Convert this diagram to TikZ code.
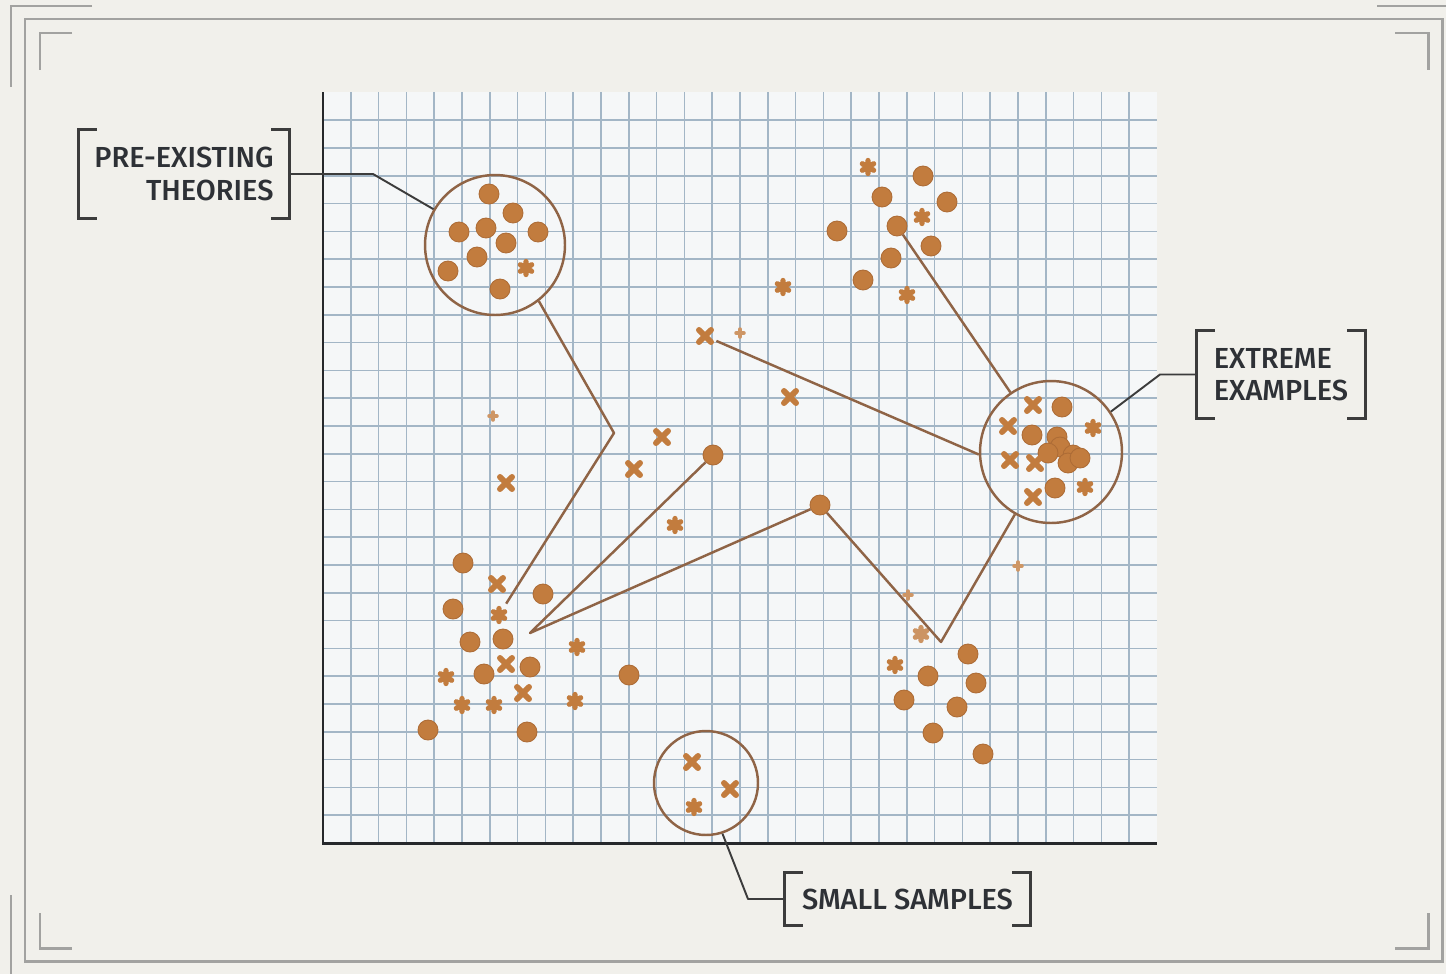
\documentclass[tikz,border=0pt]{standalone}
\usepackage{fontspec}
\newfontfamily\labfont{Fira Sans}[UprightFont=* Medium]
\usetikzlibrary{calc}
\definecolor{bgc}{HTML}{F1F0EB}
\definecolor{gridbg}{HTML}{F5F7F8}
\definecolor{gridc}{HTML}{A3B6C6}
\definecolor{axisc}{HTML}{26282B}
\definecolor{framec}{HTML}{A2A2A0}
\definecolor{dotc}{HTML}{C27C3E}
\definecolor{dotedge}{HTML}{AD6C36}
\definecolor{brownc}{HTML}{8F6446}
\definecolor{labc}{HTML}{2E3136}
\definecolor{leadc}{HTML}{3C3C3C}
\begin{document}
\begin{tikzpicture}[x=0.02cm,y=-0.02cm,
  framel/.style={draw=framec,line width=1.7pt},
  gridl/.style={draw=gridc,line width=0.85pt},
  axisl/.style={draw=axisc,line width=1.7pt},
  dot/.style={circle,fill=dotc,draw=dotedge,line width=0.5pt,minimum size=0.4cm,inner sep=0pt},
  xmark/.style={rectangle,minimum size=0.44cm,inner sep=0pt,
    path picture={\draw[dotc,line width=3.4pt,line cap=round]
      (path picture bounding box.center) +(-0.12cm,-0.12cm) -- +(0.12cm,0.12cm)
      (path picture bounding box.center) +(-0.12cm,0.12cm) -- +(0.12cm,-0.12cm);}},
  astmark/.style={rectangle,minimum size=0.44cm,inner sep=0pt,
    path picture={\draw[dotc,line width=3pt,line cap=round]
      (path picture bounding box.center) +(90:0.13cm) -- +(270:0.13cm)
      (path picture bounding box.center) +(30:0.13cm) -- +(210:0.13cm)
      (path picture bounding box.center) +(150:0.13cm) -- +(330:0.13cm);}},
  smallmark/.style={rectangle,minimum size=0.3cm,inner sep=0pt,
    path picture={\draw[dotc!80,line width=2pt,line cap=round]
      (path picture bounding box.center) +(90:0.08cm) -- +(270:0.08cm)
      (path picture bounding box.center) +(0:0.08cm) -- +(180:0.08cm);}},
  bigcirc/.style={circle,draw=brownc,line width=1.4pt,inner sep=0pt},
  conn/.style={draw=brownc,line width=1.4pt,line join=round},
  lead/.style={draw=leadc,line width=1.1pt,line join=round},
  brk/.style={draw=leadc,line width=1.5pt},
  lab/.style={inner sep=0pt,text=labc,font=\labfont\fontsize{16.5}{18.5}\selectfont}
]
% background
\fill[bgc] (0,0) rectangle (1446,974);
\useasboundingbox (0,0) rectangle (1446,974);

% frame
\draw[framel] (25,19) rectangle (1442,961);
\draw[framel] (92,6) -- (11,6) -- (11,87);
\draw[framel] (1377,6) -- (1446,6);
\draw[framel] (11,895) -- (11,974);
\draw[framel] (72,33) -- (40,33) -- (40,70);
\draw[framel] (1395,33) -- (1428,33) -- (1428,70);
\draw[framel] (40,913) -- (40,948) -- (72,948);
\draw[framel] (1395,948) -- (1428,948) -- (1428,913);

% grid
\fill[gridbg] (323,92) rectangle (1157,843);
\foreach \k in {1,...,29} \draw[gridl] ({323+27.8*\k},92) -- ({323+27.8*\k},843);
\foreach \k in {1,...,26} \draw[gridl] (323,{843-27.8*\k}) -- (1157,{843-27.8*\k});
\draw[axisl] (323,92) -- (323,843) -- (1157,843);

% big circles
\node[bigcirc,minimum size=2.8cm] (cpre) at (495,245) {};
\node[bigcirc,minimum size=2.84cm] (cext) at (1051,452) {};
\node[bigcirc,minimum size=2.08cm] (csmall) at (706,783) {};

% pre-existing cluster
\node[dot] (p1) at (489,194) {};
\node[dot] (p2) at (513,213) {};
\node[dot] (p3) at (459,232) {};
\node[dot] (p4) at (486,228) {};
\node[dot] (p5) at (506,243) {};
\node[dot] (p6) at (538,232) {};
\node[dot] (p7) at (477,257) {};
\node[dot] (p8) at (448,271) {};
\node[dot] (p9) at (500,289) {};
\node[astmark] (p10) at (526,268) {};

% top right cluster
\node[astmark] (t1) at (868,167) {};
\node[dot] (t2) at (923,176) {};
\node[dot] (t3) at (882,197) {};
\node[dot] (t4) at (947,202) {};
\node[astmark] (t5) at (922,217) {};
\node[dot] (t6) at (897,226) {};
\node[dot] (t7) at (837,231) {};
\node[dot] (t8) at (931,246) {};
\node[dot] (t9) at (891,258) {};
\node[dot] (t10) at (863,280) {};
\node[astmark] (t11) at (907,295) {};

% scattered middle
\node[astmark] (s1) at (783,287) {};
\node[xmark] (s2) at (705,336) {};
\node[smallmark] (s3) at (740,333) {};
\node[xmark] (s4) at (790,397) {};
\node[smallmark] (s5) at (493,416) {};
\node[xmark] (s6) at (506,483) {};
\node[xmark] (s7) at (662,437) {};
\node[xmark] (s8) at (634,469) {};
\node[dot] (s9) at (713,455) {};
\node[astmark] (s10) at (675,525) {};
\node[dot] (s11) at (820,505) {};
\node[smallmark] (s12) at (1018,566) {};
\node[smallmark] (s13) at (908,595) {};

% bottom left cluster
\node[dot] (b1) at (463,563) {};
\node[xmark] (b2) at (497,584) {};
\node[dot] (b3) at (543,594) {};
\node[dot] (b4) at (453,609) {};
\node[astmark] (b5) at (499,615) {};
\node[dot] (b6) at (470,642) {};
\node[dot] (b7) at (503,639) {};
\node[astmark] (b8) at (577,647) {};
\node[dot] (b9) at (530,667) {};
\node[xmark] (b10) at (506,664) {};
\node[dot] (b11) at (484,674) {};
\node[astmark] (b12) at (446,677) {};
\node[dot] (b13) at (629,675) {};
\node[xmark] (b14) at (523,693) {};
\node[astmark] (b15) at (462,705) {};
\node[astmark] (b16) at (494,705) {};
\node[astmark] (b17) at (575,701) {};
\node[dot] (b18) at (428,730) {};
\node[dot] (b19) at (527,732) {};

% bottom right cluster
\node[astmark,opacity=0.8] (r1) at (921,634) {};
\node[astmark] (r2) at (895,665) {};
\node[dot] (r3) at (968,654) {};
\node[dot] (r4) at (928,676) {};
\node[dot] (r5) at (976,683) {};
\node[dot] (r6) at (904,700) {};
\node[dot] (r7) at (957,707) {};
\node[dot] (r8) at (933,733) {};
\node[dot] (r9) at (983,754) {};

% extreme cluster
\node[xmark] (e1) at (1033,405) {};
\node[dot] (e2) at (1062,407) {};
\node[xmark] (e3) at (1008,426) {};
\node[astmark] (e4) at (1093,428) {};
\node[dot] (e5) at (1032,435) {};
\node[dot] (e6) at (1057,437) {};
\node[dot] (e7) at (1060,447) {};
\node[dot] (e8) at (1048,453) {};
\node[dot] (e9) at (1073,455) {};
\node[dot] (e10) at (1068,463) {};
\node[dot] (e11) at (1080,458) {};
\node[xmark] (e12) at (1010,460) {};
\node[xmark] (e13) at (1035,463) {};
\node[dot] (e14) at (1055,488) {};
\node[astmark] (e15) at (1085,487) {};
\node[xmark] (e16) at (1033,497) {};

% small samples cluster
\node[xmark] (m1) at (692,762) {};
\node[xmark] (m2) at (730,789) {};
\node[astmark] (m3) at (694,807) {};

% brown connectors
\coordinate (bend) at (614,433);
\coordinate (hub) at (530,633);
\coordinate (vtx) at (941,642);
\draw[conn] (cpre.-52) -- (bend) -- (b5);
\draw[conn] (s9) -- (hub) -- (s11) -- (vtx) -- (cext);
\draw[conn] (s2) -- (cext.182);
\draw[conn] (t6) -- (cext);

% labels
\node[lab,minimum width=4.2cm,minimum height=1.76cm,align=right] (pre) at (184,174) {PRE-EXISTING\\THEORIES};
\node[lab,minimum width=3.36cm,minimum height=1.74cm,align=left] (ext) at (1281,374.5) {EXTREME\\EXAMPLES};
\node[lab,minimum width=4.9cm,minimum height=1.04cm,align=center] (sml) at (907.5,899) {SMALL SAMPLES};
\foreach \n in {pre,ext,sml}{
  \draw[brk] ([xshift=0.36cm]\n.north west) -- (\n.north west) -- (\n.south west) -- ([xshift=0.36cm]\n.south west);
  \draw[brk] ([xshift=-0.36cm]\n.north east) -- (\n.north east) -- (\n.south east) -- ([xshift=-0.36cm]\n.south east);
}

% leader lines
\coordinate (k1) at (373,174);
\coordinate (k2) at (1160,374.5);
\coordinate (k3) at (748,899);
\draw[lead] (pre.east) -- (k1) -- (cpre);
\draw[lead] (cext.34) -- (k2) -- (ext.west);
\draw[lead] (csmall.-72) -- (k3) -- (sml.west);
\end{tikzpicture}
\end{document}
